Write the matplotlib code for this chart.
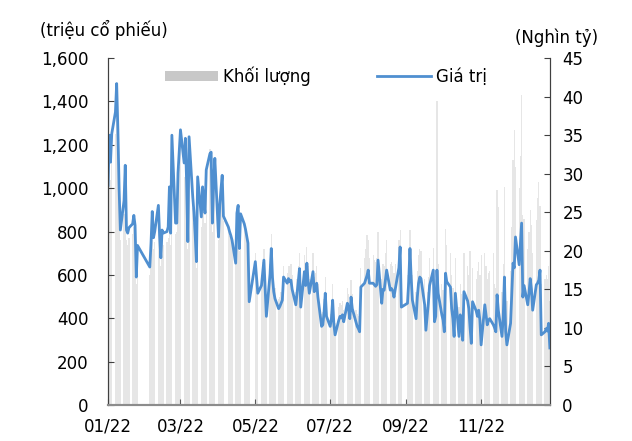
import matplotlib
matplotlib.use('Agg')
import matplotlib.pyplot as plt
import matplotlib.dates as mdates
from matplotlib.patches import Patch
from matplotlib.lines import Line2D
import pandas as pd

# trading days of 2022 (weekdays minus market holidays)
holidays = ['2022-01-03', '2022-01-31', '2022-02-01', '2022-02-02', '2022-02-03',
            '2022-02-04', '2022-04-11', '2022-05-02', '2022-05-03',
            '2022-09-01', '2022-09-02']
days = pd.bdate_range('2022-01-04', '2022-12-30')
days = days[~days.isin(pd.to_datetime(holidays))]

# Giá trị (nghìn tỷ), one list per month
val_jan = [28.5, 35.0, 31.5, 35.2, 38.0, 41.7, 35.7, 28.0, 22.7, 26.5, 31.1, 22.7, 22.3, 23.0, 23.5, 24.6, 23.3, 16.6, 20.7]
val_feb = [17.9, 21.0, 25.1, 21.7, 22.5, 25.9, 22.0, 19.1, 22.7, 22.3, 22.5, 23.1, 28.3, 22.3, 35.0, 23.6]
val_mar = [23.6, 30.1, 33.0, 35.7, 31.4, 34.6, 29.0, 21.2, 34.8, 27.0, 25.0, 22.0, 18.6, 29.6, 24.4, 28.3, 26.5, 24.9, 30.5, 32.6, 32.8, 23.6, 28.7]
val_apr = [32.0, 21.8, 26.0, 28.0, 29.8, 24.5, 23.1, 22.5, 22.0, 21.4, 18.4, 24.9, 25.9, 20.3, 24.8, 23.5, 22.8, 21.9, 21.0, 13.4]
val_may = [18.6, 16.5, 14.5, 15.5, 17.1, 18.8, 15.0, 11.5, 17.0, 20.3, 16.5, 14.7, 13.8, 12.5, 12.8, 13.2, 13.6, 16.6, 15.8, 16.4]
val_jun = [16.0, 16.2, 15.0, 13.0, 14.5, 16.0, 17.7, 12.7, 17.3, 15.5, 18.4, 16.0, 14.5, 17.3, 14.7, 15.2, 15.8, 14.0, 10.2, 10.4, 12.0, 14.5]
val_jul = [11.5, 10.2, 11.2, 13.6, 10.5, 9.1, 11.0, 11.5, 11.3, 11.7, 10.8, 13.2, 12.5, 11.2, 14.0, 12.5, 10.8, 10.2, 9.9, 9.5, 15.3]
val_aug = [15.8, 16.3, 16.8, 17.5, 15.8, 15.8, 15.6, 15.4, 15.6, 18.8, 13.2, 15.0, 14.9, 16.2, 17.5, 14.9, 15.1, 14.8, 14.0, 15.0, 17.8, 20.5, 12.7]
val_sep = [13.2, 16.0, 20.3, 16.5, 13.6, 11.2, 14.0, 15.8, 16.6, 16.4, 13.0, 9.7, 11.5, 13.2, 15.5, 17.5, 10.8, 11.5, 17.5, 14.5]
val_oct = [11.7, 11.0, 9.5, 17.1, 16.0, 15.3, 12.5, 11.2, 8.9, 14.5, 8.9, 11.7, 10.5, 8.4, 14.7, 13.5, 12.5, 10.0, 8.0, 13.4, 12.2]
val_nov = [11.5, 12.3, 11.0, 7.8, 13.0, 11.7, 10.4, 11.0, 11.2, 10.4, 10.0, 9.5, 14.3, 12.3, 8.9, 11.4, 16.6, 9.5, 7.8, 10.6, 14.5, 18.4]
val_dec = [17.8, 21.8, 18.2, 21.0, 23.6, 14.0, 15.5, 13.0, 14.5, 16.4, 15.0, 12.3, 15.6, 15.8, 16.2, 17.5, 9.1, 9.5, 9.9, 9.6, 10.6, 7.4]

# Khối lượng (triệu cổ phiếu), one list per month
vol_jan = [940, 1150, 1040, 1160, 1250, 1380, 1180, 930, 760, 880, 1030, 760, 740, 770, 790, 820, 780, 560, 690]
vol_feb = [600, 700, 830, 720, 750, 860, 730, 640, 760, 740, 750, 770, 940, 740, 1150, 790]
vol_mar = [800, 1010, 1100, 1190, 1050, 1150, 970, 720, 1160, 910, 840, 740, 630, 990, 820, 950, 890, 840, 1060, 1180, 1120, 800, 960]
vol_apr = [1100, 760, 900, 960, 1020, 850, 800, 780, 770, 750, 650, 870, 900, 710, 860, 820, 800, 770, 740, 480]
vol_may = [700, 630, 560, 600, 660, 720, 580, 450, 650, 790, 640, 570, 540, 490, 500, 520, 530, 640, 610, 640]
vol_jun = [640, 650, 600, 520, 580, 640, 700, 510, 690, 620, 730, 640, 580, 700, 590, 610, 640, 560, 420, 430, 490, 590]
vol_jul = [470, 420, 460, 560, 430, 380, 450, 470, 460, 480, 440, 540, 510, 460, 576, 510, 440, 420, 410, 390, 630]
vol_aug = [680, 720, 784, 760, 680, 690, 670, 660, 680, 800, 580, 650, 640, 700, 760, 650, 660, 640, 610, 650, 760, 807, 560]
vol_sep = [600, 700, 807, 720, 600, 520, 620, 690, 720, 710, 580, 450, 520, 590, 680, 722, 500, 530, 1400, 650]
vol_oct = [560, 530, 470, 811, 740, 700, 600, 540, 440, 680, 450, 560, 510, 430, 700, 640, 600, 711, 420, 630, 580]
vol_nov = [620, 660, 600, 692, 700, 640, 580, 610, 620, 700, 560, 540, 991, 914, 520, 650, 1007, 560, 480, 620, 820, 1130]
vol_dec = [1268, 1100, 1000, 1150, 1430, 876, 860, 720, 800, 900, 830, 700, 853, 953, 1030, 920, 560, 580, 600, 580, 640, 480]

values = (val_jan + val_feb + val_mar + val_apr + val_may + val_jun +
          val_jul + val_aug + val_sep + val_oct + val_nov + val_dec)
volumes = (vol_jan + vol_feb + vol_mar + vol_apr + vol_may + vol_jun +
           vol_jul + vol_aug + vol_sep + vol_oct + vol_nov + vol_dec)
n = min(len(days), len(values), len(volumes))
days, values, volumes = days[:n], values[:n], volumes[:n]

tick_dates = pd.to_datetime(['2022-01-04', '2022-03-04', '2022-05-04',
                             '2022-07-04', '2022-09-04', '2022-11-04'])

plt.rcParams['font.family'] = ['DejaVu Sans']
fig = plt.figure(figsize=(6.32, 4.41), dpi=100)
ax = fig.add_axes([0.171, 0.0816, 0.699, 0.7866])
ax2 = ax.twinx()

ax.bar(days, volumes, width=1.0, color='#e6e6e6', linewidth=0)
ax2.plot(days, values, color='#4f8fd0', linewidth=2.0)

ax.set_ylim(0, 1600)
ax.set_yticks(range(0, 1601, 200))
ax.set_yticklabels([f'{v:,}' for v in range(0, 1601, 200)])
ax2.set_ylim(0, 45)
ax2.set_yticks(range(0, 46, 5))
ax.set_xlim(days[0], days[-1])
ax.set_xticks(tick_dates)
ax.xaxis.set_major_formatter(mdates.DateFormatter('%m/%y'))

for a in (ax, ax2):
    a.spines['top'].set_visible(False)
    a.spines['left'].set_color('#404040')
    a.spines['right'].set_color('#404040')
    a.spines['bottom'].set_color('#8c8c8c')
    a.spines['bottom'].set_linewidth(1.5)
ax.tick_params(axis='y', direction='in', length=4, pad=14, labelsize=12, color='#404040')
ax.tick_params(axis='x', direction='in', length=4, pad=9, labelsize=12, color='#595959')
ax2.tick_params(axis='y', direction='in', length=4, pad=9, labelsize=12, color='#404040')

fig.text(0.063, 0.932, '(triệu cổ phiếu)', fontsize=12, ha='left', va='center')
fig.text(0.946, 0.914, '(Nghìn tỷ)', fontsize=12, ha='right', va='center')

handles = [Patch(facecolor='#c8c8c8', edgecolor='none'),
           Line2D([0], [0], color='#4f8fd0', linewidth=2.0)]
fig.legend(handles, ['Khối lượng', 'Giá trị'], loc='center', bbox_to_anchor=(0.515, 0.828),
           ncol=2, frameon=False, fontsize=12, handlelength=3.2, handleheight=0.55,
           handletextpad=0.3, columnspacing=4.0)

fig.savefig('out.png', dpi=100)
